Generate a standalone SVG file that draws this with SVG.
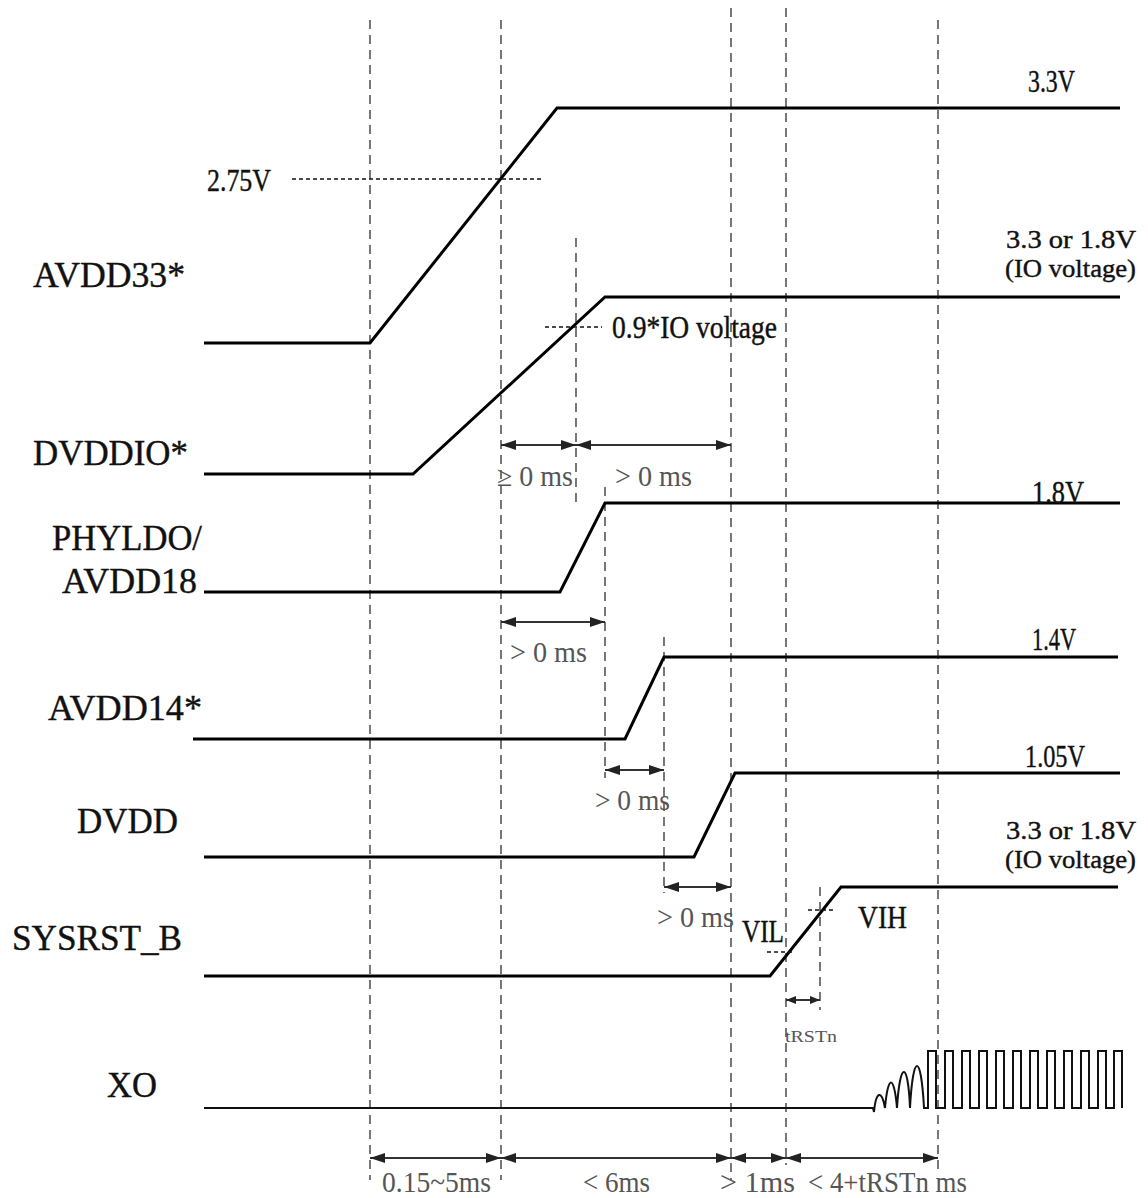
<svg xmlns="http://www.w3.org/2000/svg" width="1148" height="1198" viewBox="0 0 1148 1198">
<style>
.bg{fill:#fff}
.wave{fill:none;stroke:#000;stroke-width:3;stroke-linejoin:miter}
.xo{fill:none;stroke:#111;stroke-width:2}
.vdash{fill:none;stroke:#555;stroke-width:1.6;stroke-dasharray:9 6}
.dot{fill:none;stroke:#111;stroke-width:1.6;stroke-dasharray:4 3}
.dim{fill:none;stroke:#333;stroke-width:2;marker-start:url(#ah);marker-end:url(#ah)}
.dims{fill:none;stroke:#333;stroke-width:2;marker-start:url(#ahs);marker-end:url(#ahs)}
.sig{font-family:"Liberation Serif","Times New Roman",serif;font-size:36px;fill:#111;stroke:#111;stroke-width:0.4}
.volt{font-family:"Liberation Serif","Times New Roman",serif;font-size:31px;fill:#111;stroke:#111;stroke-width:0.4}
.volt2{font-family:"Liberation Serif","Times New Roman",serif;font-size:26px;fill:#111;stroke:#111;stroke-width:0.4}
.tm{font-family:"Liberation Serif","Times New Roman",serif;font-size:29px;fill:#555}
.small{font-family:"Liberation Serif","Times New Roman",serif;font-size:16px;fill:#555}
</style>
<defs>
<marker id="ah" markerUnits="userSpaceOnUse" markerWidth="15" markerHeight="10" refX="15" refY="5" orient="auto-start-reverse"><path d="M0,0 L15,5 L0,10 z" fill="#222"/></marker>
<marker id="ahs" markerUnits="userSpaceOnUse" markerWidth="10" markerHeight="8" refX="10" refY="4" orient="auto-start-reverse"><path d="M0,0 L10,4 L0,8 z" fill="#222"/></marker>
</defs>
<rect class="bg" x="0" y="0" width="1148" height="1198"/>

<g id="guides">
<line class="vdash" x1="370" y1="20" x2="370" y2="1180"/>
<line class="vdash" x1="501" y1="20" x2="501" y2="1180"/>
<line class="vdash" x1="576" y1="238" x2="576" y2="505"/>
<line class="vdash" x1="605" y1="487" x2="605" y2="778"/>
<line class="vdash" x1="664" y1="637" x2="664" y2="893"/>
<line class="vdash" x1="731" y1="8" x2="731" y2="1180"/>
<line class="vdash" x1="786" y1="8" x2="786" y2="1165"/>
<line class="vdash" x1="820" y1="887" x2="820" y2="1010"/>
<line class="vdash" x1="938" y1="20" x2="938" y2="1172"/>
</g>

<g id="AVDD33">
<text class="sig" x="33" y="287" textLength="152" lengthAdjust="spacingAndGlyphs">AVDD33*</text>
<path class="wave" d="M204,343 H370 L557,108 H1120"/>
<line class="dot" x1="292" y1="179" x2="543" y2="179"/>
<text class="volt" x="207" y="191" textLength="64" lengthAdjust="spacingAndGlyphs">2.75V</text>
<text class="volt" x="1028" y="92" textLength="47" lengthAdjust="spacingAndGlyphs">3.3V</text>
</g>

<g id="DVDDIO">
<text class="sig" x="33" y="465" textLength="155" lengthAdjust="spacingAndGlyphs">DVDDIO*</text>
<path class="wave" d="M204,474 H413 L605,297 H1120"/>
<line class="dot" x1="545" y1="327" x2="602" y2="327"/>
<text class="volt" x="612" y="338" textLength="165" lengthAdjust="spacingAndGlyphs">0.9*IO voltage</text>
<text class="volt2" x="1006" y="248" textLength="130" lengthAdjust="spacingAndGlyphs">3.3 or 1.8V</text>
<text class="volt2" x="1005" y="277" textLength="131" lengthAdjust="spacingAndGlyphs">(IO voltage)</text>
</g>

<g id="PHYLDO_AVDD18">
<text class="sig" x="52" y="550" textLength="150" lengthAdjust="spacingAndGlyphs">PHYLDO/</text>
<text class="sig" x="62" y="593" textLength="135" lengthAdjust="spacingAndGlyphs">AVDD18</text>
<path class="wave" d="M204,592 H560 L605,503 H1120"/>
<text class="volt" x="1032" y="503" textLength="52" lengthAdjust="spacingAndGlyphs">1.8V</text>
</g>

<g id="AVDD14">
<text class="sig" x="48" y="720" textLength="154" lengthAdjust="spacingAndGlyphs">AVDD14*</text>
<path class="wave" d="M193,739 H625 L664,657 H1118"/>
<text class="volt" x="1032" y="650" textLength="44" lengthAdjust="spacingAndGlyphs">1.4V</text>
</g>

<g id="DVDD">
<text class="sig" x="77" y="833" textLength="101" lengthAdjust="spacingAndGlyphs">DVDD</text>
<path class="wave" d="M204,857 H694 L735,773 H1120"/>
<text class="volt" x="1025" y="767" textLength="60" lengthAdjust="spacingAndGlyphs">1.05V</text>
</g>

<g id="SYSRST_B">
<text class="sig" x="12" y="950" textLength="170" lengthAdjust="spacingAndGlyphs">SYSRST_B</text>
<path class="wave" d="M204,976 H770 L841,887 H1118"/>
<line class="dot" x1="767" y1="952" x2="793" y2="952"/>
<line class="dot" x1="808" y1="910" x2="835" y2="910"/>
<text class="volt" x="742" y="942" textLength="42" lengthAdjust="spacingAndGlyphs">VIL</text>
<text class="volt" x="858" y="928" textLength="49" lengthAdjust="spacingAndGlyphs">VIH</text>
<text class="volt2" x="1006" y="839" textLength="130" lengthAdjust="spacingAndGlyphs">3.3 or 1.8V</text>
<text class="volt2" x="1005" y="868" textLength="131" lengthAdjust="spacingAndGlyphs">(IO voltage)</text>
</g>

<g id="XO">
<text class="sig" x="107" y="1097" textLength="50" lengthAdjust="spacingAndGlyphs">XO</text>
<path class="xo" d="M204,1108 H873 L874,1112 C876,1090 882,1090 885,1108 C888,1074 894,1074 897,1108 C900,1060 908,1060 910,1108 C913,1052 921,1052 924,1108 L928,1108 V1051 H936 V1108 H945 V1051 H953 V1108 H962 V1051 H970 V1108 H979 V1051 H987 V1108 H996 V1051 H1004 V1108 H1013 V1051 H1021 V1108 H1030 V1051 H1038 V1108 H1047 V1051 H1055 V1108 H1064 V1051 H1072 V1108 H1081 V1051 H1089 V1108 H1098 V1051 H1106 V1108 H1114 V1051 H1122 V1108"/>
</g>

<g id="connectors">
<line class="dim" x1="501" y1="445" x2="576" y2="445"/>
<line class="dim" x1="576" y1="445" x2="731" y2="445"/>
<line class="dim" x1="501" y1="622" x2="605" y2="622"/>
<line class="dim" x1="605" y1="770" x2="664" y2="770"/>
<line class="dim" x1="664" y1="887" x2="731" y2="887"/>
<line class="dims" x1="786" y1="1000" x2="820" y2="1000"/>
<line class="dim" x1="370" y1="1158" x2="501" y2="1158"/>
<line class="dim" x1="501" y1="1158" x2="731" y2="1158"/>
<line class="dim" x1="731" y1="1158" x2="786" y2="1158"/>
<line class="dim" x1="786" y1="1158" x2="938" y2="1158"/>
</g>

<g id="timing-labels">
<text class="tm" x="497" y="486" textLength="76" lengthAdjust="spacingAndGlyphs">≥ 0 ms</text>
<text class="tm" x="615" y="486" textLength="77" lengthAdjust="spacingAndGlyphs">&gt; 0 ms</text>
<text class="tm" x="510" y="662" textLength="77" lengthAdjust="spacingAndGlyphs">&gt; 0 ms</text>
<text class="tm" x="595" y="810" textLength="75" lengthAdjust="spacingAndGlyphs">&gt; 0 ms</text>
<text class="tm" x="657" y="927" textLength="77" lengthAdjust="spacingAndGlyphs">&gt; 0 ms</text>
<text class="small" x="785" y="1042" textLength="52" lengthAdjust="spacingAndGlyphs">tRSTn</text>
<text class="tm" x="382" y="1192" textLength="109" lengthAdjust="spacingAndGlyphs">0.15~5ms</text>
<text class="tm" x="583" y="1192" textLength="67" lengthAdjust="spacingAndGlyphs">&lt; 6ms</text>
<text class="tm" x="720" y="1192" textLength="75" lengthAdjust="spacingAndGlyphs">&gt; 1ms</text>
<text class="tm" x="808" y="1192" textLength="159" lengthAdjust="spacingAndGlyphs">&lt; 4+tRSTn ms</text>
</g>
</svg>
